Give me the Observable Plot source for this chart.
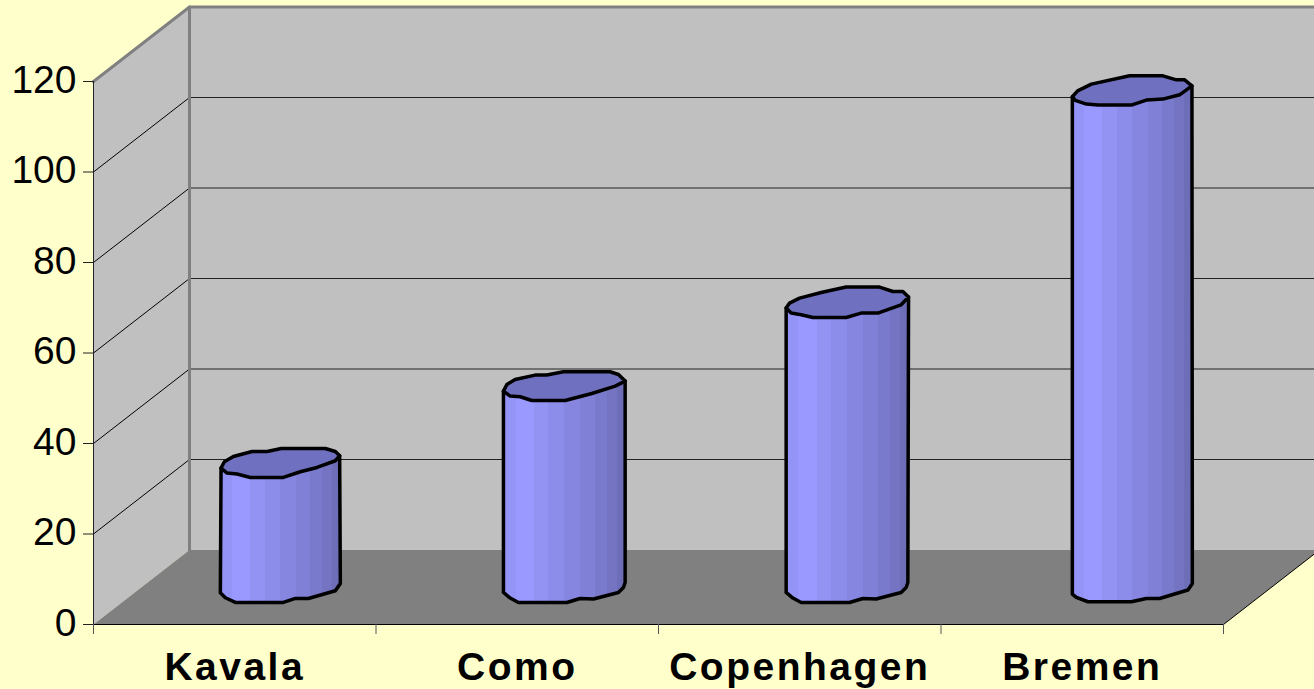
<!DOCTYPE html>
<html>
<head>
<meta charset="utf-8">
<script src="https://cdn.jsdelivr.net/npm/d3@7"></script>
<script src="https://cdn.jsdelivr.net/npm/@observablehq/plot@0.6"></script>
<style>
html,body{margin:0;padding:0;background:#FFFFCC;overflow:hidden}
svg{display:block}
g[aria-label="text"]{letter-spacing:2.5px}
</style>
</head>
<body>
<div id="chart"></div>
<script>
const categories = ["Kavala", "Como", "Copenhagen", "Bremen"];
const values = [27.6, 44.5, 63, 109.6];
const yTicks = [0, 20, 40, 60, 80, 100, 120];

// Hand-read outlines of each column's rim, relative to its own centre (pixels of the drawing).
const topRims = [
  [[-61.7,5.7],[-58.4,-0.6],[-49.4,-5.9],[-30.7,-10.9],[-15.7,-10.9],[-1.4,-13.9],[42.6,-13.9],[52.6,-10.9],[56.9,-6.6],[52.6,-1.6],[34.3,5.1],[17.6,9.4],[0.6,15.1],[-32.4,15.1],[-45.7,11.7],[-55.7,10.7]],
  [[-61.8,5.2],[-58.4,-1.4],[-50.1,-6.4],[-30.1,-10.8],[-18.4,-10.8],[-1.8,-14.1],[44.9,-14.1],[53.2,-11.4],[59.9,-4.8],[49.9,0.2],[26.6,7.6],[-0.1,14.6],[-33.4,14.6],[-45.1,10.9],[-55.1,10.2]],
  [[-61.6,5.9],[-58.2,0.9],[-48.2,-4.1],[-26.6,-9.7],[-1.6,-15.1],[31.8,-15.1],[45.1,-10.7],[55.1,-10.7],[60.8,-5.1],[53.4,2.6],[30.1,10.9],[13.4,10.9],[-1.6,15.3],[-34.9,15.3],[-46.6,12.6],[-56.6,10.9]],
  [[-57.9,5.4],[-52.6,-0.5],[-38.9,-7.2],[-0.6,-15.5],[32.7,-15.5],[46.1,-11.5],[54.4,-11.5],[61.7,-5.5],[49.4,3.5],[32.7,7.8],[16.1,8.8],[1.1,13.8],[-32.3,13.8],[-43.9,12.8],[-55,9]]
];
const bottomRims = [
  [[-62.4,5.5],[-57.4,10.5],[-47.4,15.2],[0.6,15.2],[12.6,11.2],[25.6,11.2],[52.6,3.5],[57.6,-3.8]],
  [[-61.8,5.2],[-55.1,10.8],[-46.8,15.2],[1.6,15.2],[14.9,11.2],[28.2,11.8],[53.2,5.2],[58.2,0.2],[59.9,-4.8]],
  [[-61.6,5.2],[-54.9,10.8],[-46.6,15.2],[1.8,15.2],[15.1,11.2],[28.4,11.8],[53.4,5.2],[58.4,0.2],[60.1,-4.8]],
  [[-57.9,6.8],[-53.9,10.2],[-42.3,14.5],[1.1,14.5],[16.1,11.2],[29.4,11.2],[57.7,2.8],[62.1,-3.8]]
];
const bandStops = [0, .1, .25, .37, .5, .63, .75, .85, .93, 1];
const bandColors = ["#9494F6","#9999FF","#9393F4","#8C8CEA","#8686E0","#8080D6","#7A7ACC","#7474C2","#6E6EB8"];

const width = 1314, height = 689;
const margin = {left: 93, right: 91, top: 81, bottom: 65};
const unitX = (width - margin.left - margin.right) / categories.length; // px per category
const unitY = (height - margin.top - margin.bottom) / 120;              // px per value
const depthX = 96 / unitX, depthY = 74.5 / unitY;

// Oblique projection: value space + depth (0 front, 1 back); offsets are px around a point.
const at = (x, v, d = 0, ox = 0, oy = 0) => ({
  x: x + d * depthX + ox / unitX,
  y: v + d * depthY - oy / unitY
});
const poly = (pts, o) => Plot.line(pts, {x: "x", y: "y", stroke: "none", ...o});
const xMax = categories.length, yMax = 120;

const gradient = () => {
  const defs = d3.create("svg:defs");
  const g = defs.append("linearGradient").attr("id", "column").attr("x1", 0).attr("x2", 1).attr("y1", 0).attr("y2", 0);
  bandColors.forEach((c, i) => {
    g.append("stop").attr("offset", bandStops[i]).attr("stop-color", c);
    g.append("stop").attr("offset", bandStops[i + 1]).attr("stop-color", c);
  });
  return defs.node();
};

const wall = [
  poly([at(0,0,1), at(xMax+1,0,1), at(xMax+1,yMax,1), at(0,yMax,1)], {fill: "#C0C0C0"}),
  poly([at(0,0,0), at(0,0,1), at(0,yMax,1), at(0,yMax,0)], {fill: "#C0C0C0"}),
  poly([at(0,0,0), at(xMax,0,0), at(xMax,0,1), at(0,0,1)], {fill: "#808080"}),
  poly([at(xMax,0,0), at(xMax,0,1)], {stroke: "#000", strokeWidth: 1}),
  ...yTicks.slice(1, -1).flatMap(v => [
    poly([at(0,v,0), at(0,v,1)], {stroke: "#000", strokeWidth: 1}),
    poly([at(0,v,1), at(xMax+1,v,1)], {stroke: "#222", strokeWidth: 1})
  ]),
  poly([at(0,yMax,0), at(0,yMax,1), at(xMax+1,yMax,1)], {stroke: "#808080", strokeWidth: 3}),
  poly([at(0,yMax,1), at(0,0,1)], {stroke: "#808080", strokeWidth: 3})
];

const columns = categories.flatMap((_, i) => {
  const cx = i + 0.5, v = values[i];
  const top = topRims[i], bottom = bottomRims[i];
  const right = top.reduce((a, b) => b[0] > a[0] ? b : a);
  const body = [
    ...bottom.map(([ox, oy]) => at(cx, 0, .5, ox, oy)),
    at(cx, v, .5, right[0], right[1]),
    at(cx, v, .5, top[0][0], top[0][1]),
    at(cx, 0, .5, bottom[0][0], bottom[0][1])
  ];
  const rim = [...top, top[0]].map(([ox, oy]) => at(cx, v, .5, ox, oy));
  return [
    poly(body, {fill: "url(#column)", stroke: "#000", strokeWidth: 3.5}),
    poly(rim, {fill: "#7070C0", stroke: "#000", strokeWidth: 3.5})
  ];
});

const chart = Plot.plot({
  width, height,
  marginLeft: margin.left, marginRight: margin.right, marginTop: margin.top, marginBottom: margin.bottom,
  style: {background: "transparent", fontFamily: "'Liberation Sans', Arial, sans-serif", color: "#000"},
  x: {type: "linear", domain: [0, xMax], axis: null},
  y: {type: "linear", domain: [0, yMax], axis: null},
  marks: [
    gradient,
    ...wall,
    Plot.ruleX([0], {y1: 0, y2: yMax, stroke: "#222", strokeWidth: 1}),
    Plot.ruleY([0], {x1: 0, x2: xMax, stroke: "#000", strokeWidth: 1}),
    ...columns,
    Plot.axisY({ticks: yTicks, tickSize: 10, tickFormat: () => "", stroke: "#222", label: null}),
    Plot.axisY({ticks: yTicks, tickSize: 0, tickPadding: 17, fontSize: 39, dy: -1, label: null}),
    Plot.axisX({ticks: d3.range(xMax + 1), tickSize: 10, tickFormat: () => "", stroke: "#555", label: null}),
    Plot.text(categories, {
      x: (_, i) => i + 0.5, y: 0, text: d => d,
      fontSize: 39, fontWeight: "bold", dy: 43, fill: "#000"
    })
  ]
});
document.getElementById("chart").appendChild(chart);
</script>
</body>
</html>
